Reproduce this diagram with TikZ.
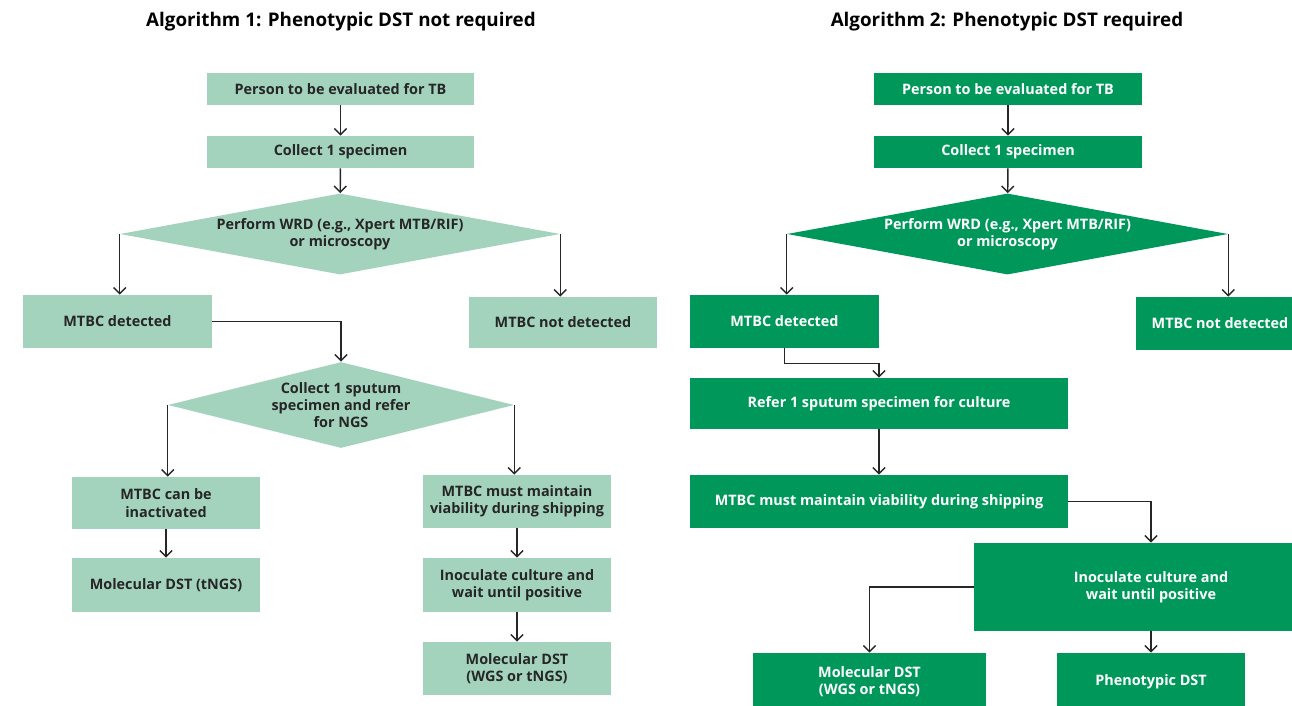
\documentclass[tikz,border=0pt]{standalone}
\usepackage{fontspec}
\setmainfont{Open Sans}
\usepackage{xcolor}
\usetikzlibrary{shapes.geometric, arrows.meta, positioning}

\definecolor{palegreen}{HTML}{A3D3BD}
\definecolor{deepgreen}{HTML}{00985A}
\definecolor{inkgray}{HTML}{262626}

\begin{document}
\begin{tikzpicture}[
    x=0.02cm, y=-0.02cm,
    box/.style={rectangle, inner sep=1pt, align=center, font=\fontsize{8.2}{9.8}\selectfont\bfseries},
    lbox/.style={box, fill=palegreen, text=inkgray},
    dbox/.style={box, fill=deepgreen, text=white},
    diam/.style={diamond, inner sep=0pt, align=center, font=\fontsize{8.2}{9.8}\selectfont\bfseries},
    ldiam/.style={diam, fill=palegreen, text=inkgray},
    ddiam/.style={diam, fill=deepgreen, text=white},
    title/.style={font=\fontsize{10.7}{13}\selectfont\bfseries, text=black},
    arrow/.style={-{Straight Barb[length=3.5pt, width=7pt]}, line width=0.8pt, draw=inkgray}
]
\clip (0,0) rectangle (1292,706);

% Algorithm 1: left
\node[title] (title1) at (341,22) {Algorithm 1: Phenotypic DST not required};

\node[lbox, minimum width=5.36cm, minimum height=0.64cm] (p1) at (340.5,89) {Person to be evaluated for TB};
\node[lbox, minimum width=5.36cm, minimum height=0.64cm] (c1) at (340.5,152) {Collect 1 specimen};
\node[ldiam, shape aspect=5, minimum width=8.8cm, minimum height=1.44cm] (d1) at (340,234)
    {Perform WRD (e.g., Xpert MTB/RIF)\\or microscopy};
\node[lbox, minimum width=3.78cm, minimum height=1.06cm] (m1) at (117.5,321.5) {MTBC detected};
\node[lbox, minimum width=3.76cm, minimum height=1.02cm] (n1) at (563,322.5) {MTBC not detected};
\node[ldiam, shape aspect=4, minimum width=6.92cm, minimum height=1.72cm] (d2) at (341,405)
    {Collect 1 sputum\\specimen and refer\\for NGS};
\node[lbox, minimum width=3.76cm, minimum height=1.04cm] (a1) at (166,503) {MTBC can be\\inactivated};
\node[lbox, minimum width=3.76cm, minimum height=1.08cm] (t1) at (166,585) {Molecular DST (tNGS)};
\node[lbox, minimum width=3.76cm, minimum height=1.06cm] (v1) at (517,501.5) {MTBC must maintain\\viability during shipping};
\node[lbox, minimum width=3.76cm, minimum height=1.08cm] (i1) at (517,585) {Inoculate culture and\\wait until positive};
\node[lbox, minimum width=3.76cm, minimum height=1.06cm] (w1) at (517,668.5) {Molecular DST\\(WGS or tNGS)};

\draw[arrow] (p1) -- (c1);
\draw[arrow] (c1) -- (d1);
\draw[arrow] (d1.west) -- (d1.west |- m1.north);
\draw[arrow] (d1.east) -- (d1.east |- n1.north);
\draw[arrow] (m1.east) -| (d2.north);
\draw[arrow] (d2.west) -- (d2.west |- a1.north);
\draw[arrow] (d2.east) -- (d2.east |- v1.north);
\draw[arrow] (a1) -- (t1);
\draw[arrow] (v1) -- (i1);
\draw[arrow] (i1) -- (w1);

% Algorithm 2: right
\node[title] (title2) at (1007,22) {Algorithm 2: Phenotypic DST required};

\node[dbox, minimum width=5.36cm, minimum height=0.64cm] (p2) at (1008,89) {Person to be evaluated for TB};
\node[dbox, minimum width=5.36cm, minimum height=0.64cm] (c2) at (1008,152) {Collect 1 specimen};
\node[ddiam, shape aspect=5, minimum width=8.82cm, minimum height=1.44cm] (d3) at (1007.5,234)
    {Perform WRD (e.g., Xpert MTB/RIF)\\or microscopy};
\node[dbox, minimum width=3.78cm, minimum height=1.06cm] (m2) at (784.5,321.5) {MTBC detected};
\node[dbox, minimum width=3.76cm, minimum height=1.06cm] (n2) at (1230,323.5) {\hspace*{-0.4cm}MTBC not detected};
\node[dbox, minimum width=7.56cm, minimum height=1.02cm] (r2) at (879,403.5) {Refer 1 sputum specimen for culture};
\node[dbox, minimum width=7.56cm, minimum height=1.06cm] (v2) at (879,501.5) {MTBC must maintain viability during shipping};
\node[dbox, minimum width=7.08cm, minimum height=1.76cm] (i2) at (1151,587) {Inoculate culture and\\wait until positive};
\node[dbox, minimum width=4.66cm, minimum height=1.16cm] (w2) at (869.5,682) {Molecular DST\\(WGS or tNGS)};
\node[dbox, minimum width=3.76cm, minimum height=1.16cm] (f2) at (1151,682) {Phenotypic DST};

\draw[arrow] (p2) -- (c2);
\draw[arrow] (c2) -- (d3);
\draw[arrow] (d3.west) -- (d3.west |- m2.north);
\draw[arrow] (d3.east) -- (d3.east |- n2.north);
\draw[arrow] (m2.south) -- ++(0,15) -| (r2.north);
\draw[arrow] (r2) -- (v2);
\draw[arrow] (v2.east) -| (i2.north);
\draw[arrow] (i2.west) -| (w2.north);
\draw[arrow] (i2) -- (f2);

\end{tikzpicture}
\end{document}
